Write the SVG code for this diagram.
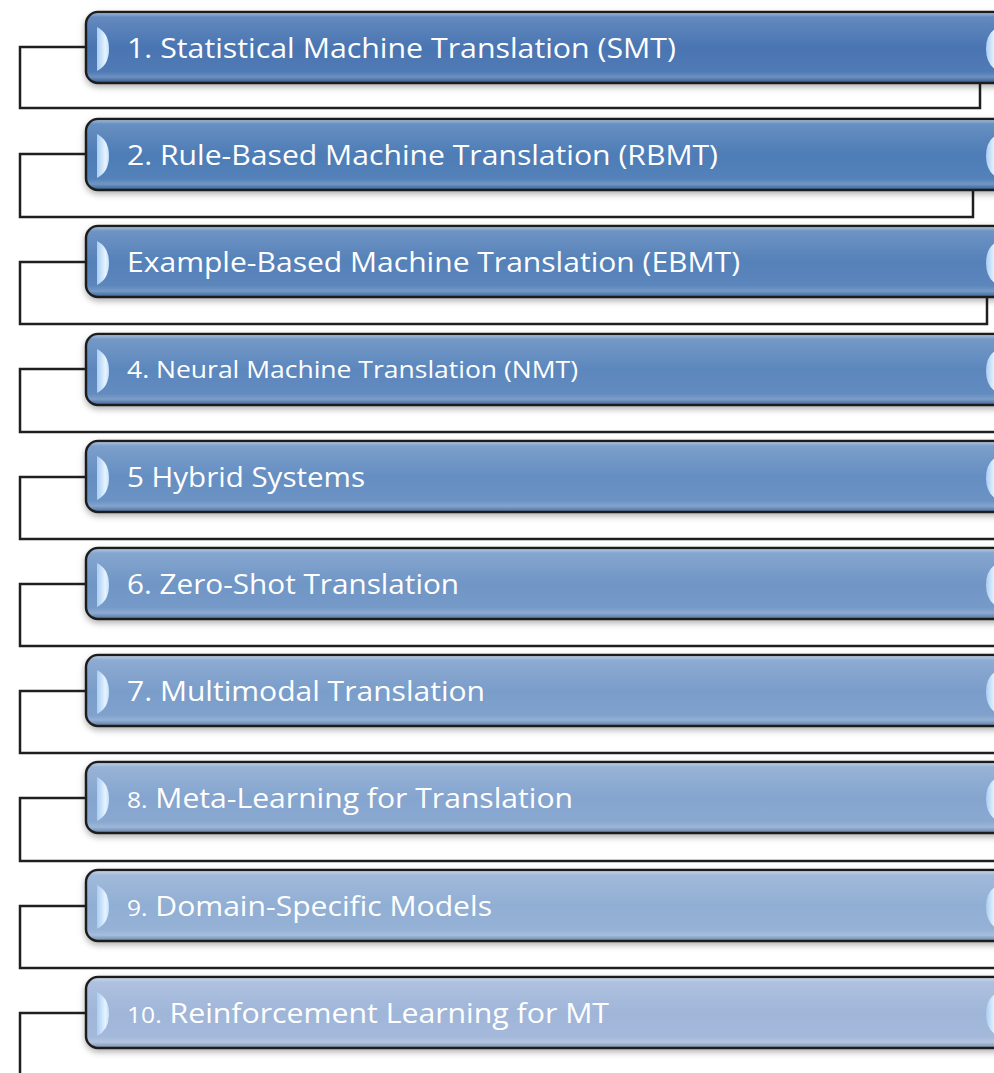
<svg xmlns="http://www.w3.org/2000/svg" width="994" height="1073" viewBox="0 0 994 1073">
<style>
.conn{fill:none;stroke:#1f1f1f;stroke-width:2.5;stroke-linejoin:miter}
.box{stroke:#1e1e1e;stroke-width:2.5}
.gloss{fill:url(#gloss)}
.lbl{font-family:"Open Sans","Liberation Sans",sans-serif;font-size:27px;fill:#ffffff}
.sm{font-size:22px}
.hl{fill:url(#hlg)}
</style>
<defs>
<linearGradient id="gloss" x1="0" y1="0" x2="0" y2="1">
<stop offset="0" stop-color="#ffffff" stop-opacity="0.45"/>
<stop offset="0.06" stop-color="#ffffff" stop-opacity="0.15"/>
<stop offset="0.5" stop-color="#ffffff" stop-opacity="0"/>
<stop offset="0.85" stop-color="#ffffff" stop-opacity="0.04"/>
<stop offset="0.93" stop-color="#ffffff" stop-opacity="0.2"/>
<stop offset="1" stop-color="#000000" stop-opacity="0.15"/>
</linearGradient>
<linearGradient id="hlg" x1="0" y1="0" x2="1" y2="0">
<stop offset="0" stop-color="#a9cdf2"/>
<stop offset="0.7" stop-color="#e6f4ff"/>
<stop offset="1" stop-color="#c4e0fb"/>
</linearGradient>
<filter id="sh" x="-5%" y="-20%" width="110%" height="150%">
<feDropShadow dx="0" dy="3" stdDeviation="3" flood-color="#000" flood-opacity="0.3"/>
</filter>
<symbol id="hlL" overflow="visible"><path class="hl" d="M0,0 Q12,6 12,22 Q12,38 0,44 Z"/></symbol>
<symbol id="hlR" overflow="visible"><path class="hl" d="M12,0 Q0,6 0,22 Q0,38 12,44 Z"/></symbol>
</defs>

<g id="connectors">
<path class="conn" d="M86,47 H20 V108 H980 V82"/>
<path class="conn" d="M86,154 H20 V217 H973 V190"/>
<path class="conn" d="M86,262 H20 V324 H987 V297"/>
<path class="conn" d="M86,369 H20 V432 H1000"/>
<path class="conn" d="M86,477 H20 V539 H1000"/>
<path class="conn" d="M86,584 H20 V646 H1000"/>
<path class="conn" d="M86,691 H20 V753 H1000"/>
<path class="conn" d="M86,798 H20 V861 H1000"/>
<path class="conn" d="M86,906 H20 V968 H1000"/>
<path class="conn" d="M86,1013 H20 V1080"/>
</g>

<g id="node1" transform="translate(0,12)">
<rect class="box" x="86" y="0" width="960" height="71" rx="12" fill="#4875b2" filter="url(#sh)"/>
<rect class="gloss" x="87" y="1" width="958" height="69" rx="11"/>
<use href="#hlL" x="97" y="15"/><use href="#hlR" x="986" y="15"/>
<text class="lbl" x="127" y="46" textLength="549" lengthAdjust="spacingAndGlyphs">1. Statistical Machine Translation (SMT)</text>
</g>

<g id="node2" transform="translate(0,119)">
<rect class="box" x="86" y="0" width="960" height="71" rx="12" fill="#4e7bb6" filter="url(#sh)"/>
<rect class="gloss" x="87" y="1" width="958" height="69" rx="11"/>
<use href="#hlL" x="97" y="15"/><use href="#hlR" x="986" y="15"/>
<text class="lbl" x="127" y="46" textLength="591" lengthAdjust="spacingAndGlyphs">2. Rule-Based Machine Translation (RBMT)</text>
</g>

<g id="node3" transform="translate(0,226)">
<rect class="box" x="86" y="0" width="960" height="71" rx="12" fill="#5581b9" filter="url(#sh)"/>
<rect class="gloss" x="87" y="1" width="958" height="69" rx="11"/>
<use href="#hlL" x="97" y="15"/><use href="#hlR" x="986" y="15"/>
<text class="lbl" x="127" y="46" textLength="613" lengthAdjust="spacingAndGlyphs">Example-Based Machine Translation (EBMT)</text>
</g>

<g id="node4" transform="translate(0,334)">
<rect class="box" x="86" y="0" width="960" height="71" rx="12" fill="#5c87bd" filter="url(#sh)"/>
<rect class="gloss" x="87" y="1" width="958" height="69" rx="11"/>
<use href="#hlL" x="97" y="15"/><use href="#hlR" x="986" y="15"/>
<text class="lbl" x="127" y="44" font-size="23" textLength="451" lengthAdjust="spacingAndGlyphs" style="font-size:23px">4. Neural Machine Translation (NMT)</text>
</g>

<g id="node5" transform="translate(0,441)">
<rect class="box" x="86" y="0" width="960" height="71" rx="12" fill="#658ec2" filter="url(#sh)"/>
<rect class="gloss" x="87" y="1" width="958" height="69" rx="11"/>
<use href="#hlL" x="97" y="15"/><use href="#hlR" x="986" y="15"/>
<text class="lbl" x="127" y="46" textLength="238" lengthAdjust="spacingAndGlyphs">5 Hybrid Systems</text>
</g>

<g id="node6" transform="translate(0,548)">
<rect class="box" x="86" y="0" width="960" height="71" rx="12" fill="#7096c6" filter="url(#sh)"/>
<rect class="gloss" x="87" y="1" width="958" height="69" rx="11"/>
<use href="#hlL" x="97" y="15"/><use href="#hlR" x="986" y="15"/>
<text class="lbl" x="127" y="46" textLength="332" lengthAdjust="spacingAndGlyphs">6. Zero-Shot Translation</text>
</g>

<g id="node7" transform="translate(0,655)">
<rect class="box" x="86" y="0" width="960" height="71" rx="12" fill="#7a9dca" filter="url(#sh)"/>
<rect class="gloss" x="87" y="1" width="958" height="69" rx="11"/>
<use href="#hlL" x="97" y="15"/><use href="#hlR" x="986" y="15"/>
<text class="lbl" x="127" y="46" textLength="358" lengthAdjust="spacingAndGlyphs">7. Multimodal Translation</text>
</g>

<g id="node8" transform="translate(0,762)">
<rect class="box" x="86" y="0" width="960" height="71" rx="12" fill="#85a5cf" filter="url(#sh)"/>
<rect class="gloss" x="87" y="1" width="958" height="69" rx="11"/>
<use href="#hlL" x="97" y="15"/><use href="#hlR" x="986" y="15"/>
<text class="lbl" x="127" y="46" textLength="446" lengthAdjust="spacingAndGlyphs"><tspan class="sm">8.</tspan> Meta-Learning for Translation</text>
</g>

<g id="node9" transform="translate(0,870)">
<rect class="box" x="86" y="0" width="960" height="71" rx="12" fill="#91aed4" filter="url(#sh)"/>
<rect class="gloss" x="87" y="1" width="958" height="69" rx="11"/>
<use href="#hlL" x="97" y="15"/><use href="#hlR" x="986" y="15"/>
<text class="lbl" x="127" y="46" textLength="365" lengthAdjust="spacingAndGlyphs"><tspan class="sm">9.</tspan> Domain-Specific Models</text>
</g>

<g id="node10" transform="translate(0,977)">
<rect class="box" x="86" y="0" width="960" height="71" rx="12" fill="#a0b6d9" filter="url(#sh)"/>
<rect class="gloss" x="87" y="1" width="958" height="69" rx="11"/>
<use href="#hlL" x="97" y="15"/><use href="#hlR" x="986" y="15"/>
<text class="lbl" x="127" y="46" textLength="482" lengthAdjust="spacingAndGlyphs"><tspan class="sm">10.</tspan> Reinforcement Learning for MT</text>
</g>
</svg>
